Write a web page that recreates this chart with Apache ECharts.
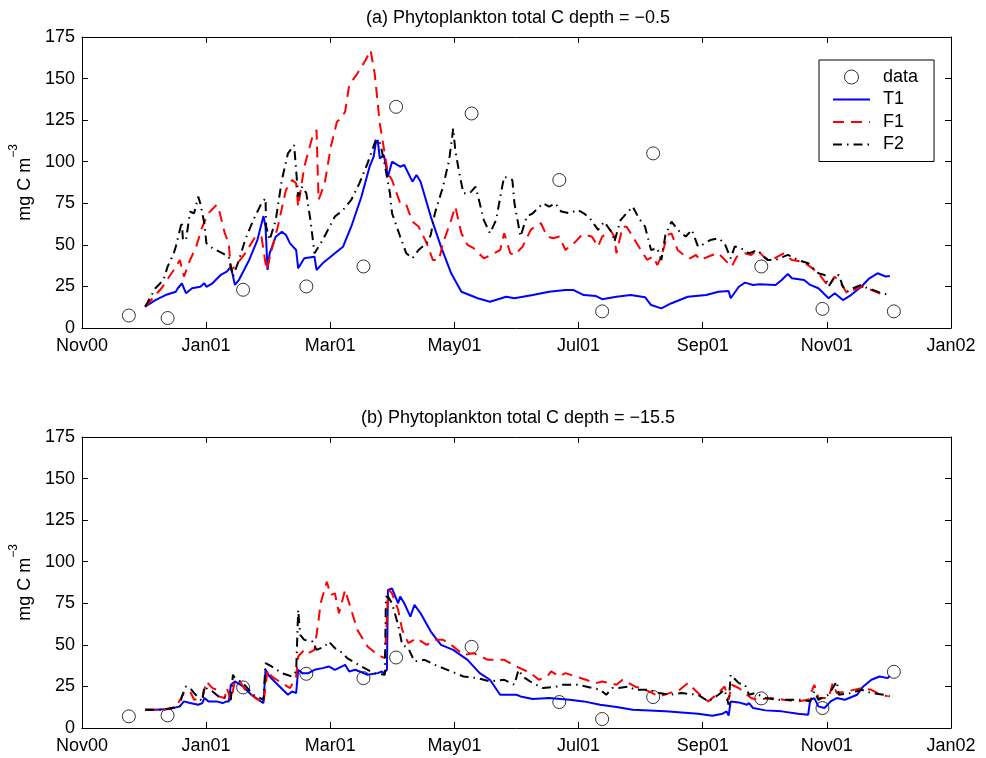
<!DOCTYPE html>
<html>
<head>
<meta charset="utf-8">
<script src="https://cdn.jsdelivr.net/npm/echarts@6/dist/echarts.min.js"></script>
<style>
html,body{margin:0;padding:0;background:#fff;}
#main{width:986px;height:758px;}
</style>
</head>
<body>
<div id="main"></div>
<script>
// x is days since 1 Nov 2000, the 8 tick labels are evenly spaced
var tickNames = ['Nov00', 'Jan01', 'Mar01', 'May01', 'Jul01', 'Sep01', 'Nov01', 'Jan02'];
var dayMax = 426;
var tickStep = dayMax / 7;

var titleA = '(a) Phytoplankton total C depth = \u22120.5';
var titleB = '(b) Phytoplankton total C depth = \u221215.5';

// observations (same dates for both depths)
var obsDays = [23, 42, 79, 110, 138, 154, 191, 234, 255, 280, 333, 363, 398];
var obsA = [7.5, 6, 23, 25, 37, 133, 129, 89, 10, 105, 37, 11.5, 10];
var obsB = [7, 7.6, 24.4, 32.6, 30, 42.4, 48.8, 15.6, 5.4, 18.6, 17.8, 12, 33.8];

/* panel (a), depth -0.5 */
var t1A = [[31,12.8],[36,16.8],[41,19.8],[46,21.8],[47,23.9],[49,26.9],[51,20.9],[54,23.9],[58,24.8],[60,26.9],[61,24.8],[64,26.9],[68,31.9],[71,33.9],[73,36.9],[75,25.9],[77,29],[82,40.9],[86,52.9],[89,67.3],[90,60.9],[91,34.9],[92,44.9],[95,54.9],[98,57.9],[100,55.9],[102,50.9],[105,46.9],[106,35.9],[109,41.9],[114,42.9],[115,34.9],[118,38.9],[124,44.9],[128,48.9],[132,60.9],[137,78.9],[141,97],[143,103],[144,111],[145,113],[146,102],[148,104],[150,91],[152,100],[156,97],[158,98],[162,88],[164,92],[166,88],[171,67],[176,48.9],[181,32.9],[186,21.8],[194,17.9],[200,15.8],[208,18.8],[212,17.9],[221,19.8],[229,21.8],[237,22.8],[241,22.8],[246,19.8],[252,19.2],[255,17.3],[262,18.8],[269,19.8],[276,18.5],[279,13.8],[284,11.8],[289,14.9],[297,18.8],[306,19.8],[312,21.8],[317,22.2],[318,17.9],[322,24.8],[325,27.3],[329,25.9],[332,26.3],[340,25.9],[343,28.9],[346,32.5],[348,29.9],[354,28.9],[357,25.9],[361,23.9],[366,17.9],[369,20.9],[373,16.8],[377,19.8],[382,24.8],[386,29.9],[390,32.9],[394,31],[396,31.3]];

var f1A = [[31,12.8],[39,23.9],[45,34.9],[48,40.9],[50,30.9],[53,40.9],[56,48.9],[59,60.9],[62,69],[66,74],[67,72],[70,57],[72,51],[73,34.9],[75,36.9],[80,44.9],[85,54.9],[88,54.9],[90.5,34.9],[93,46.9],[96,60.9],[100,83],[103,89],[105,87],[106,73],[109,97],[113,115],[115,119],[116,77],[119,87],[122,109],[125,124],[127,126],[129,130],[131,146],[135,153],[139,161],[141.5,167],[143.5,153],[146,123],[150,93],[152,89],[156,75],[159,74],[162,64],[165,61],[169,51],[172,40.9],[175,40.9],[177,51],[181,65],[183,73],[186,57],[189,50],[192,48],[197,41.9],[202,44.9],[205,46.9],[207,57],[210,44.9],[212,43.9],[216,48.9],[220,59],[222,61],[225,63],[228,55],[231,54],[234,55],[237,46.9],[241,51],[242,51.9],[245,56],[247,55.9],[250,54.9],[253,49],[255,54.9],[259,58.9],[261,54.9],[262,44.9],[265,60.9],[267,60.9],[271,52.9],[273,48.9],[277,41],[280,42.9],[282,37.9],[284,42.9],[287,55.9],[289,56.9],[292,46.9],[295,43.9],[298,41.9],[301,43.9],[303,40.9],[305,41.9],[309,43.9],[312,44.9],[316,39.9],[318.5,36.9],[321,42.9],[325,44.9],[328,43.9],[331,46.9],[335,41.9],[338,40.9],[344,44.9],[348,40.9],[353,39.9],[357,36.9],[361,32.9],[366,24.8],[369,30.9],[372,26.9],[375,20.9],[380,23.9],[383,24.8],[387,22.8],[393,19.8]];

var f2A = [[31,12.8],[36,23.9],[40,28.9],[42,36.9],[45,44.9],[46,48.9],[49,63.9],[49.5,52.9],[51,52.9],[53,69.9],[55,69],[57,79],[58,75],[60,63],[61,51],[64,48],[69,44.9],[72,42.9],[74,30.9],[77,40.9],[80,52.9],[84,64.9],[88,75],[90,78],[90.3,61],[92,52.9],[95,64.9],[98,89],[101,105],[104,110],[105,95],[106,79],[108,85],[110,81],[112,64.9],[114,44.9],[118,52.9],[121,60],[124,67],[128,71],[132,77],[136,87],[140,99],[144,113],[146,112],[148,101],[151,81],[152,69],[156,55],[159,44.9],[162,41.9],[165,46.9],[169,51],[171,56],[173,69],[177,85],[180,101],[182,120],[183,107],[185,93],[187,81],[190,81],[193,85],[197,64.9],[200,57],[203,64.9],[206,85],[207,91],[211,89],[212,75],[215,55],[218,67],[221,69],[226,75],[229,73],[232,75],[235,70],[239,69],[243,71],[246,69],[249,66],[253,59],[256,63.9],[260,57],[261,51.9],[264,64.9],[267,69],[270,73],[273,66],[276,61],[279,46.9],[282,48],[284,40.9],[286,55.9],[289,63.9],[293,57.9],[296,55],[299,59],[302,48.9],[304,50],[308,52.9],[312,54],[315,51],[318,41.9],[320,49],[323,48],[327,44.9],[331,46.9],[336,40.9],[340,40.9],[346,44],[351,40.9],[356,38.9],[361,32.9],[364,31.9],[366,25],[369,30.9],[371,31.9],[373,25],[375,21.8],[378,23.9],[382,25.9],[385,23.9],[388,22.8],[392,20.9],[396,19.8]];

/* panel (b), depth -15.5 */
var t1B = [[31,11],[36,11],[43,11.4],[48,13],[50,16],[53,15],[57,14],[59,15],[60,18],[62,16],[66,16],[69,15],[71,16],[72,16],[73,26],[75,28],[79,25],[83,20],[89,15],[90,35],[92,31],[96,26],[101,20],[103,22],[105,21],[106,35],[108,33],[111,33],[114,35],[118,36],[121,37],[124,35],[129,38],[131,34],[134,35],[140,32],[145,33],[147,34],[148,33],[149.5,35],[150,83],[152,84],[155,75],[156,79],[158,75],[161,67],[163,74],[166,69],[171,58],[176,50],[182,47],[189,41],[195,33],[200,29],[205,20],[213,20],[215,19],[221,17.4],[229,18],[239,17],[246,16],[254,14],[262,12.6],[270,11],[286,10],[302,8.6],[309,7.4],[314,8.6],[316,10],[317,7.4],[318,16],[322,15.4],[326,14],[327,15],[329,12],[335,10.6],[343,10],[351,8.6],[356,8],[357,17],[359,18],[361,13],[364,12],[367,16],[370,18],[374,17],[380,20],[383,25],[387,29],[391,31],[395,30],[396,31.4]];

var f1B = [[31,11],[40,11],[46,12.6],[50,21],[53,22],[55,17],[59,18],[61,28],[64,24],[66,23],[67,19],[70,18],[71,24],[73,17],[75,28],[77,29],[80,23],[85,18],[89,15],[91,35],[93,31],[98,27],[102,24],[105,31],[106,43],[109,47],[111,45],[114,47],[116,65],[117,75],[120,88],[122,80],[124,81],[126,69],[129,83],[132,71],[135,59],[140,49],[145,44],[148.5,42],[150,79],[150.5,83],[152,81],[155,71],[157,59],[160,51],[164,54],[169,50],[173,53],[177,53],[181,50],[187,44],[192,45],[199,41],[207,41],[213,37],[220,33],[224,29],[228,31],[230,34],[234,31],[237,33],[242,31],[247,29],[252,27],[255,28],[262,26],[265,29],[271,25],[276,23],[283,19],[288,21],[293,23],[297,27],[302,21],[307,16],[312,21],[315,25],[317,17],[318.5,26],[322,24],[325,21],[328,18],[331,17],[338,18],[344,17],[351,16],[356,17],[359,26],[361,18],[366,18],[368,27],[370,21],[375,22],[382,24],[387,23],[390,21],[395,19]];

var f2B = [[31,11],[40,11],[48,13],[49,19],[51,25],[53,24],[55,21],[59,16],[60,25],[62,23],[64,22],[67,19],[71,18],[73,17],[74,32],[75,30],[79,27],[84,20],[89,17],[90,39],[93,37],[98,33],[103,31],[105,34],[106,71],[107,56],[109,53],[113,52],[115,47],[119,49],[121,52],[124,48],[128,45],[130,42],[137,37],[143,33],[148.5,32],[149,79],[150,79],[152,75],[155,62],[157,50],[160,48],[163,40],[168,41],[173,38],[181,34],[187,31],[194,30],[200,28],[207,29],[212,26],[214,35],[216,31],[221,27],[226,24],[233,25],[236,26],[243,26],[247,25],[254,23],[257,20],[260,24],[263,24],[268,25],[271,23],[278,23],[283,21],[288,20],[294,21],[302,20],[307,16],[312,20],[315,23],[317,14],[318,32],[322,27],[325,26],[327,20],[330,21],[335,18],[341,17],[348,17],[353,17],[357,16],[359,22],[361,17],[366,20],[370,28],[371,20],[377,21],[382,23],[387,21],[393,20],[396,19]];

var fontName = 'Liberation Sans, Arial, Helvetica, sans-serif';
var fs = 18;

function pairObs(vals) {
    var out = [];
    for (var i = 0; i < obsDays.length; i++) out.push([obsDays[i], vals[i]]);
    return out;
}

function xAxisFor(g, pos) {
    var main = pos == 'bottom';
    return {
        type: 'value', gridIndex: g, position: pos,
        min: 0, max: dayMax, interval: tickStep,
        axisLine: {onZero: false, lineStyle: {color: '#000', width: 1}},
        axisTick: {show: true, inside: true, length: 6, lineStyle: {color: '#000'}},
        splitLine: {show: false},
        axisLabel: {
            show: main, margin: 9, color: '#000', fontSize: fs, fontFamily: fontName,
            formatter: function (v) { return tickNames[Math.round(v / tickStep)]; }
        }
    };
}

function yAxisFor(g, pos) {
    var main = pos == 'left';
    var ax = {
        type: 'value', gridIndex: g, position: pos,
        min: 0, max: 175, interval: 25,
        axisLine: {show: true, onZero: false, lineStyle: {color: '#000', width: 1}},
        axisTick: {show: true, inside: true, length: 6, lineStyle: {color: '#000'}},
        splitLine: {show: false},
        axisLabel: {show: main, margin: 7, color: '#000', fontSize: fs, fontFamily: fontName}
    };
    if (main) {
        ax.name = '{n|mg C m}{s|\u22123}';
        ax.nameLocation = 'middle';
        ax.nameRotate = 90;
        ax.nameGap = 42;
        ax.nameTextStyle = {
            color: '#000',
            rich: {
                n: {fontSize: fs, fontFamily: fontName, color: '#000', lineHeight: 26, verticalAlign: 'bottom'},
                s: {fontSize: 12, fontFamily: fontName, color: '#000', lineHeight: 26, verticalAlign: 'top'}
            }
        };
    }
    return ax;
}

function panelSeries(xi, yi, obs, t1, f1, f2) {
    return [
        {name: 'data', type: 'scatter', xAxisIndex: xi, yAxisIndex: yi, data: pairObs(obs),
         symbol: 'circle', symbolSize: 13,
         itemStyle: {color: 'rgba(0,0,0,0)', borderColor: '#000', borderWidth: 1}},
        {name: 'T1', type: 'line', xAxisIndex: xi, yAxisIndex: yi, data: t1, symbol: 'none',
         itemStyle: {color: '#0000ff'}, lineStyle: {color: '#0000ff', width: 2}},
        {name: 'F1', type: 'line', xAxisIndex: xi, yAxisIndex: yi, data: f1, symbol: 'none',
         itemStyle: {color: '#ff0000'}, lineStyle: {color: '#ff0000', width: 2, type: [11, 7]}},
        {name: 'F2', type: 'line', xAxisIndex: xi, yAxisIndex: yi, data: f2, symbol: 'none',
         itemStyle: {color: '#000'}, lineStyle: {color: '#000', width: 2, type: [9, 5, 1.5, 5]}}
    ];
}

// legend: plain line icons for the model runs, no dot in the middle
var noDot = {opacity: 0};

var myChart = echarts.init(document.getElementById('main'));
myChart.setOption({
    backgroundColor: '#fff',
    animation: false,
    textStyle: {fontFamily: fontName},
    title: [
        {text: titleA, left: 513, top: 4, textAlign: 'center',
         textStyle: {fontSize: fs, fontWeight: 'normal', color: '#000', fontFamily: fontName}},
        {text: titleB, left: 513, top: 404, textAlign: 'center',
         textStyle: {fontSize: fs, fontWeight: 'normal', color: '#000', fontFamily: fontName}}
    ],
    grid: [
        {left: 75, width: 876, top: 37, height: 291},
        {left: 75, width: 876, top: 437, height: 291}
    ],
    xAxis: [xAxisFor(0, 'bottom'), xAxisFor(0, 'top'), xAxisFor(1, 'bottom'), xAxisFor(1, 'top')],
    yAxis: [yAxisFor(0, 'left'), yAxisFor(0, 'right'), yAxisFor(1, 'left'), yAxisFor(1, 'right')],
    legend: {
        data: [
            {name: 'data', itemStyle: {color: 'rgba(0,0,0,0)', borderColor: '#000', borderWidth: 1}},
            {name: 'T1', itemStyle: noDot},
            {name: 'F1', itemStyle: noDot},
            {name: 'F2', itemStyle: noDot}
        ],
        orient: 'vertical', left: 819, top: 60,
        backgroundColor: '#fff', borderColor: '#000', borderWidth: 1,
        padding: [8, 16, 8, 13],
        itemWidth: 37, itemHeight: 14, itemGap: 4.5,
        selectedMode: false,
        textStyle: {fontSize: fs, color: '#000', fontFamily: fontName, lineHeight: 18, padding: [0, 0, 0, 8]}
    },
    series: [].concat(
        panelSeries(0, 0, obsA, t1A, f1A, f2A),
        panelSeries(2, 2, obsB, t1B, f1B, f2B)
    )
});
</script>
</body>
</html>
